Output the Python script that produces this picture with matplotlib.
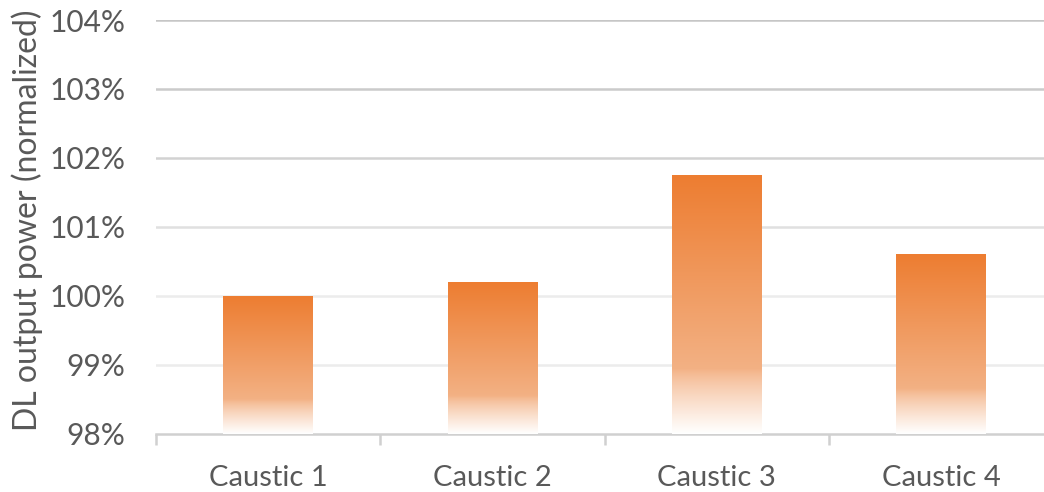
import numpy as np
import matplotlib
matplotlib.use("Agg")
import matplotlib.pyplot as plt
from matplotlib.colors import to_rgb

# Normalized diode-laser output power for each caustic (percent)
categories = ["Caustic 1", "Caustic 2", "Caustic 3", "Caustic 4"]
power_pct = [100.0, 100.2, 101.75, 100.6]
y_ticks = [98, 99, 100, 101, 102, 103, 104]
y_label = "DL output power (normalized)"

TEXT = "#595959"
plt.rcParams["font.family"] = ["Lato", "DejaVu Sans"]

fig = plt.figure(figsize=(10.44, 4.92), dpi=100)
ax = fig.add_axes([156 / 1044, 1 - 433.5 / 492, 897 / 1044, (433.5 - 20) / 492])

base = y_ticks[0]
x = np.arange(len(categories))
bars = ax.bar(x, np.array(power_pct) - base, bottom=base, width=0.40,
              facecolor="none", edgecolor="none", zorder=3)

# Vertical fill: dark orange at the top, lighter orange, then fading to white
top_c = np.array(to_rgb("#ED7D31"))
mid_c = np.array(to_rgb("#F3B184"))
bot_c = np.array(to_rgb("#FFFFFF"))
t = np.linspace(0, 1, 256)
grad = np.empty((256, 1, 3))
for i, v in enumerate(t):
    if v < 0.75:
        grad[i, 0] = top_c + (mid_c - top_c) * (v / 0.75)
    else:
        grad[i, 0] = mid_c + (bot_c - mid_c) * ((v - 0.75) / 0.25) ** 0.8
for b in bars:
    x0, y0 = b.get_x(), b.get_y()
    w, h = b.get_width(), b.get_height()
    im = ax.imshow(grad, extent=(x0, x0 + w, y0, y0 + h), origin="upper",
                   aspect="auto", zorder=3, interpolation="bilinear")
    im.set_clip_path(b)

ax.set_xlim(-0.5, len(categories) - 0.5)
ax.set_ylim(y_ticks[0], y_ticks[-1])

# Horizontal gridlines
grid_colors = {99: "#ececec", 100: "#ececec", 101: "#e0e0e0",
               102: "#d2d2d2", 103: "#cbcbcb", 104: "#c6c6c6"}
for yv in y_ticks[1:]:
    ax.axhline(yv, color=grid_colors[yv], lw=1.8, zorder=1)

for s in ["top", "right", "left"]:
    ax.spines[s].set_visible(False)
ax.spines["bottom"].set_color("#d0d0d0")
ax.spines["bottom"].set_linewidth(1.8)

ax.set_yticks(y_ticks)
ax.set_yticklabels([f"{v}%" for v in y_ticks])
ax.tick_params(axis="y", length=0, pad=22, labelsize=21.5, labelcolor=TEXT)

ax.set_xticks(x)
ax.set_xticklabels(categories)
ax.tick_params(axis="x", which="major", length=0, pad=23, labelsize=21, labelcolor=TEXT)
ax.set_xticks(np.arange(-0.5, len(categories), 1.0), minor=True)
ax.tick_params(axis="x", which="minor", length=8, width=1.8, color="#d0d0d0")

fig.text(27 / 1044, 1 - 220 / 492, y_label, rotation=90, ha="center", va="center",
         fontsize=23, color=TEXT)

fig.savefig("out.png", dpi=100, facecolor="white")
